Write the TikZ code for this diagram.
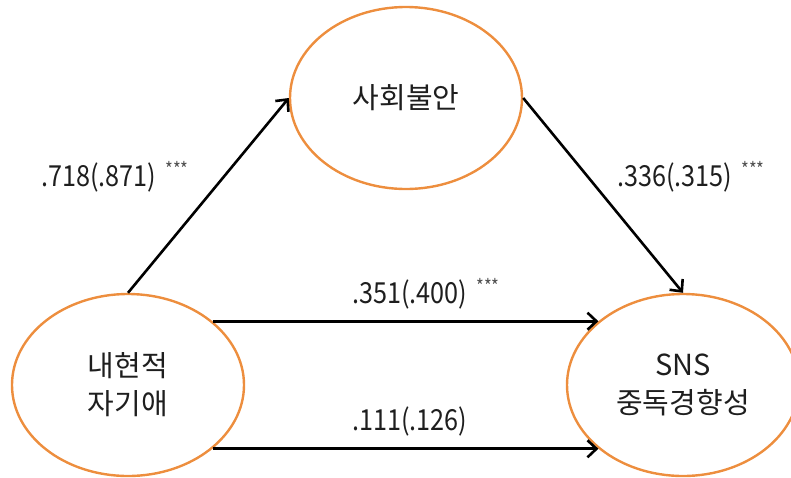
\documentclass[tikz,border=0pt]{standalone}
\usepackage{fontspec}
\setmainfont{Noto Sans CJK KR}
\newfontfamily\numfont[FakeStretch=0.87]{Noto Sans CJK KR}
\usetikzlibrary{arrows.meta,shapes.geometric}
\definecolor{ovalorange}{RGB}{237,142,62}
\definecolor{inktext}{RGB}{30,30,30}
\definecolor{stargray}{RGB}{80,80,80}
\newcommand{\sigstars}{\hspace{9pt}\raisebox{10pt}{\fontsize{19}{19}\selectfont\color{stargray}***}}
\begin{document}
\begin{tikzpicture}[x=1pt,y=-1pt,
  latent/.style={ellipse, draw=ovalorange, line width=2.4pt,
    minimum width=232pt, minimum height=182pt, inner sep=0pt,
    align=center, text=inktext, font=\fontsize{29}{38}\selectfont},
  coef/.style={text=inktext, inner sep=0pt, font=\numfont\fontsize{29}{34}\selectfont},
  path/.style={draw=black, line width=2.6pt,
    -{Straight Barb[length=9pt,width=17pt,line width=2.6pt]}}]
  \useasboundingbox (0,0) rectangle (791,477);

  % latent variables
  \node[latent] (anx) at (406,98) {사회불안};
  \node[latent] (nar) at (128,385) {내현적\\자기애};
  \node[latent] (sns) at (683,385) {SNS\\중독경향성};

  % structural paths
  \draw[path] (nar.north) -- (anx.west);
  \draw[path] (anx.east) -- (sns.north);
  \draw[path] (nar.37) -- (sns.143);
  \draw[path] (nar.-37) -- (sns.-143);

  % path coefficients
  \node[coef, anchor=west] (c1) at (41,177) {.718(.871)\sigstars};
  \node[coef, anchor=west] (c2) at (617,177) {.336(.315)\sigstars};
  \node[coef, anchor=west] (c3) at (352,294) {.351(.400)\sigstars};
  \node[coef, anchor=west] (c4) at (352,421) {.111(.126)};
\end{tikzpicture}
\end{document}
